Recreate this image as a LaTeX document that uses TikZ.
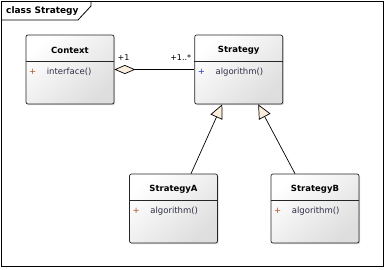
\documentclass[tikz,border=0pt]{standalone}
\usepackage{fontspec}
\setmainfont{DejaVu Sans}
\usetikzlibrary{arrows.meta, positioning, calc, shadows}

\definecolor{beige}{RGB}{252,238,220}
\definecolor{plusbrown}{RGB}{170,85,40}
\definecolor{plusblue}{RGB}{30,60,170}
\definecolor{optext}{RGB}{45,45,70}

\begin{document}
\begin{tikzpicture}[
    x=1pt, y=-1pt,
    font=\fontsize{8.5}{10}\selectfont,
    box/.style = {
        rectangle, rounded corners=2pt,
        draw=black!85, line width=0.7pt,
        top color=white, bottom color=black!13, shading angle=40,
        drop shadow={shadow xshift=1.2pt, shadow yshift=-1.2pt, opacity=.3},
        minimum width=88pt, minimum height=69pt, inner sep=0pt
    },
    cname/.style = {font=\fontsize{8.5}{10}\selectfont\bfseries, inner sep=0pt},
    vis/.style = {inner sep=0pt, anchor=center},
    op/.style = {inner sep=0pt, anchor=west, text=optext},
    sep/.style = {draw=black!85, line width=0.6pt},
    mult/.style = {inner sep=0pt, font=\fontsize{8}{9}\selectfont},
    aggr/.style = {{Diamond[length=21pt, width=9pt, fill=beige]}-, line width=0.7pt},
    gen/.style = {-{Triangle[length=14pt, width=13pt, fill=beige]}, line width=0.7pt}
]

\useasboundingbox (0,0) rectangle (385,269);

% Marco
\fill[white] (0,0) rectangle (385,269);
\draw[line width=0.8pt] (1,1) rectangle (383,266);
\draw[line width=0.8pt] (1,20) -- (78,20) -- (91,6) -- (91,1);
\node[cname, anchor=west, font=\fontsize{9}{11}\selectfont\bfseries] (frame) at (6,11) {class Strategy};

% Clase Context
\node[box] (ctx) at (70,69.5) {};
\node[cname] (ctxname) at ($(ctx.north)+(0,16)$) {Context};
\draw[sep] ($(ctx.north west)+(0,27)$) -- ($(ctx.north east)+(0,27)$);
\node[vis, text=plusbrown] (ctxvis) at ($(ctx.north west)+(7,37)$) {+};
\node[op] (ctxop) at ($(ctx.north west)+(21,37)$) {interface()};

% Clase Strategy
\node[box, right=80pt of ctx] (strat) {};
\node[cname] (stratname) at ($(strat.north)+(0,16)$) {Strategy};
\draw[sep] ($(strat.north west)+(0,27)$) -- ($(strat.north east)+(0,27)$);
\node[vis, text=plusblue] (stratvis) at ($(strat.north west)+(7,37)$) {+};
\node[op] (stratop) at ($(strat.north west)+(21,37)$) {algorithm()};

% Clase StrategyA
\node[box] (sa) at (173.5,208.5) {};
\node[cname] (saname) at ($(sa.north)+(0,16)$) {StrategyA};
\draw[sep] ($(sa.north west)+(0,27)$) -- ($(sa.north east)+(0,27)$);
\node[vis, text=plusbrown] (savis) at ($(sa.north west)+(7,37)$) {+};
\node[op] (saop) at ($(sa.north west)+(21,37)$) {algorithm()};

% Clase StrategyB
\node[box] (sb) at (315,208.5) {};
\node[cname] (sbname) at ($(sb.north)+(0,16)$) {StrategyB};
\draw[sep] ($(sb.north west)+(0,27)$) -- ($(sb.north east)+(0,27)$);
\node[vis, text=plusbrown] (sbvis) at ($(sb.north west)+(7,37)$) {+};
\node[op] (sbop) at ($(sb.north west)+(21,37)$) {algorithm()};

% Relaciones
\draw[aggr] (ctx.east) -- (strat.west);
\node[mult, anchor=west] (m1) at ($(ctx.east)+(3,-12)$) {+1};
\node[mult, anchor=east] (m2) at ($(strat.west)+(-3,-12)$) {+1..*};
\draw[gen] ($(sa.north)+(17.5,0)$) -- ($(strat.south)+(-16.5,0)$);
\draw[gen] ($(sb.north)+(-20,0)$) -- ($(strat.south)+(19.5,0)$);

\end{tikzpicture}
\end{document}
